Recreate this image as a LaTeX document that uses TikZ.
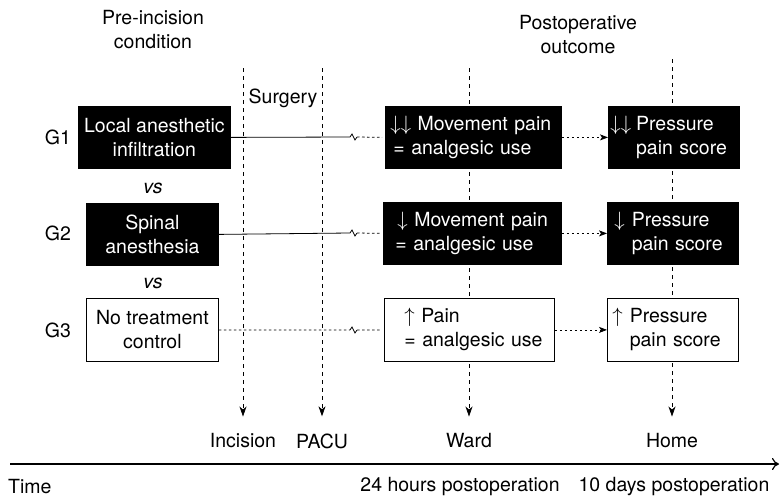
\documentclass[tikz,border=0pt]{standalone}
\usepackage{fontspec}
\setmainfont{TeX Gyre Heros}
\usetikzlibrary{arrows.meta}

\newcommand{\arrdn}{$\downarrow$}
\newcommand{\arrup}{$\uparrow$}

\tikzset{
  txt/.style={font=\fontsize{19.5}{24}\selectfont},
  box/.style={txt, draw=black, line width=0.8pt, anchor=north west,
              minimum height=62pt, inner ysep=0pt},
  darkbox/.style={box, fill=black, text=white},
  lightbox/.style={box, fill=white, text=black},
  leftbox/.style={align=left, inner xsep=0pt, text width=#1},
  lbl/.style={txt, inner sep=2pt},
  marker/.style={line width=0.8pt, dash pattern=on 4pt off 4pt,
                 -{Stealth[length=10pt,width=7pt,inset=3pt]}, shorten >=15pt},
  solidlink/.style={line width=0.8pt},
  dotlink/.style={line width=0.8pt, dash pattern=on 2.5pt off 2.5pt},
  dotarrow/.style={dotlink, -{Stealth[length=8pt,width=6pt,inset=2pt]}},
}

\begin{document}
\begin{tikzpicture}[x=1pt,y=-1pt]
\useasboundingbox (0,0) rectangle (780,498);

% column headings
\node[lbl, align=center] (pre) at (153,30) {Pre-incision\\condition};
\node[lbl, align=center] (post) at (578,35) {Postoperative\\outcome};
\node[lbl] (surgery) at (283,98) {Surgery};

% time markers along the bottom
\coordinate (inctop)  at (243,68);
\coordinate (pacutop) at (322,68);
\coordinate (wardtop) at (469,68);
\coordinate (hometop) at (672,59);
\node[lbl] (incision) at (243,441) {Incision};
\node[lbl] (pacu)     at (322,441) {PACU};
\node[lbl] (ward)     at (469,441) {Ward};
\node[lbl] (home)     at (672,441) {Home};
\draw[marker] (inctop)  -- (incision);
\draw[marker] (pacutop) -- (pacu);
\draw[marker] (wardtop) -- (ward);
\draw[marker] (hometop) -- (home);

% time axis
\coordinate (tstart) at (10,464);
\coordinate (tend)   at (779,464);
\draw[line width=1.2pt, -{To[length=7pt,width=12pt]}] (tstart) -- (tend);
\node[lbl, anchor=west] (time) at (6,487) {Time};
\node[lbl] (t24)  at (460,487) {24 hours postoperation};
\node[lbl] (t10d) at (674,487) {10 days postoperation};

% group labels
\node[lbl] (lg1) at (58,137) {G1};
\node[lbl] (lg2) at (58,233) {G2};
\node[lbl] (lg3) at (58,330) {G3};
\node[lbl, font=\fontsize{19.5}{24}\selectfont\itshape] (vs1) at (153,188) {vs};
\node[lbl, font=\fontsize{19.5}{24}\selectfont\itshape] (vs2) at (153,283) {vs};

% pre-incision condition
\node[darkbox, minimum width=152pt, align=center] (g1) at (78,106) {Local anesthetic\\infiltration};
\node[darkbox, minimum width=132pt, align=center] (g2) at (86,203) {Spinal\\anesthesia};
\node[lightbox, minimum width=132pt, align=center, minimum height=63pt] (g3) at (86,298) {No treatment\\control};

% outcome in the ward
\node[darkbox, leftbox=176pt] (w1) at (385,106)
  {\hspace*{5pt}\begin{tabular}{@{}l@{}}\arrdn\arrdn\ Movement pain\\\hspace*{3pt}= analgesic use\end{tabular}};
\node[darkbox, leftbox=178pt] (w2) at (383,202)
  {\hspace*{12pt}\begin{tabular}{@{}l@{}}\hspace*{2pt}\arrdn\ Movement pain\\= analgesic use\end{tabular}};
\node[lightbox, leftbox=170pt, minimum height=63pt] (w3) at (384,298)
  {\hspace*{20pt}\begin{tabular}{@{}l@{}}\arrup\ Pain\\= analgesic use\end{tabular}};

% outcome at home
\node[darkbox, leftbox=131pt] (h1) at (608,106)
  {\hspace*{2pt}\begin{tabular}{@{}l@{\hspace{5pt}}l@{}}\arrdn\arrdn&Pressure\\&pain score\end{tabular}};
\node[darkbox, leftbox=131pt] (h2) at (607,202)
  {\hspace*{7pt}\begin{tabular}{@{}l@{\hspace{7pt}}l@{}}\arrdn&Pressure\\&pain score\end{tabular}};
\node[lightbox, leftbox=131pt, minimum height=63pt] (h3) at (607,298)
  {\hspace*{5pt}\begin{tabular}{@{}l@{\hspace{7pt}}l@{}}\arrup&Pressure\\&pain score\end{tabular}};

% links from condition to ward, with a break mark
\coordinate (b1) at (350,137);
\coordinate (b2) at (350,233);
\coordinate (b3) at (350,330);
\draw[solidlink] (g1.east) -- (b1) -- ++(2,-3) -- ++(3,6) -- ++(2,-3) coordinate (c1);
\draw[solidlink] (g2.east) -- (b2) -- ++(2,-3) -- ++(3,6) -- ++(2,-3) coordinate (c2);
\draw[dotlink]   (g3.east) -- (b3);
\draw[solidlink] (b3) -- ++(2,-3) -- ++(3,6) -- ++(2,-3) coordinate (c3);
\draw[dotlink, shorten >=3pt] (c1) -- (w1.west);
\draw[dotlink, shorten >=3pt] (c2) -- (w2.west);
\draw[dotlink, shorten >=3pt] (c3) -- (w3.west);

% links from ward to home
\draw[dotarrow] (w1.east) -- (h1.west);
\draw[dotarrow] (w2.east) -- (h2.west);
\draw[dotarrow] (w3.east) -- (h3.west);
\end{tikzpicture}
\end{document}
